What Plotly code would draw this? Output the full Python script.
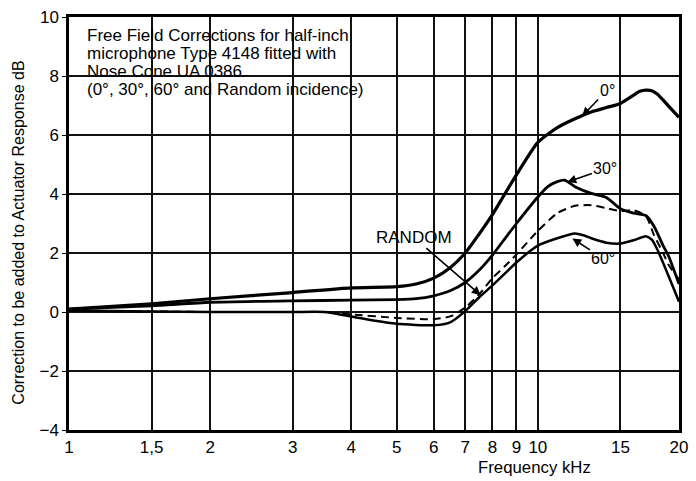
import numpy as np
import plotly.graph_objects as go

# ---------------- data ----------------
freq_0 = [1, 1.5, 2, 3, 4, 5, 5.5, 6, 6.5, 7, 7.5, 8, 8.5, 9, 10, 11, 12, 13, 14, 15, 16, 16.5, 17, 17.5, 18, 19, 20]
corr_0 = [0.1, 0.28, 0.45, 0.66, 0.82, 0.86, 0.95, 1.15, 1.5, 2.0, 2.65, 3.3, 4.0, 4.65, 5.75, 6.25, 6.55, 6.78, 6.93, 7.07, 7.35, 7.48, 7.52, 7.5, 7.38, 6.98, 6.6]

freq_30 = [1, 1.5, 2, 3, 4, 5, 5.5, 6, 6.5, 7, 7.5, 8, 8.5, 9, 10, 10.5, 11, 11.4, 12, 13, 14, 15, 16, 17, 17.7, 18.5, 19, 20]
corr_30 = [0.1, 0.21, 0.33, 0.38, 0.4, 0.42, 0.45, 0.55, 0.72, 1.0, 1.42, 1.93, 2.48, 3.0, 3.9, 4.25, 4.42, 4.47, 4.25, 4.02, 3.88, 3.5, 3.35, 3.27, 2.9, 2.25, 1.9, 0.95]

freq_rand = [1, 1.5, 2, 3, 3.5, 4, 5, 6, 6.5, 7, 7.5, 8, 8.5, 9, 10, 11, 12, 13, 14, 15, 16, 17, 17.7, 18.5, 19, 20]
corr_rand = [0.05, 0.02, 0.0, 0.0, 0.0, -0.08, -0.2, -0.24, -0.15, 0.15, 0.6, 1.15, 1.55, 1.95, 2.75, 3.35, 3.6, 3.62, 3.52, 3.42, 3.45, 3.25, 2.6, 2.0, 1.6, 1.1]

freq_60 = [1, 1.5, 2, 3, 3.5, 4, 4.5, 5, 6, 6.5, 7, 7.5, 8, 8.5, 9, 10, 11, 12, 12.5, 13, 14, 15, 16, 17, 17.5, 18, 19, 20]
corr_60 = [0.05, 0.02, 0.0, 0.0, 0.0, -0.15, -0.3, -0.4, -0.45, -0.35, 0.03, 0.5, 0.9, 1.3, 1.68, 2.25, 2.5, 2.66, 2.6, 2.5, 2.35, 2.32, 2.43, 2.57, 2.45, 2.1, 1.22, 0.35]

x_tickvals = [1, 1.5, 2, 3, 4, 5, 6, 7, 8, 9, 10, 15, 20]
x_ticktext = ["1", "1,5", "2", "3", "4", "5", "6", "7", "8", "9", "10", "15", "20"]
y_tickvals = [-4, -2, 0, 2, 4, 6, 8, 10]
y_ticktext = ["\u22124", "\u22122", "0", "2", "4", "6", "8", "10"]

note_lines = [
    "Free Field Corrections for half-inch",
    "microphone Type 4148 fitted with",
    "Nose Cone UA 0386.",
    "(0\u00b0, 30\u00b0, 60\u00b0 and Random incidence)",
]

# curve labels: text, arrow-head frequency, arrow-head value, text offset (px), font size
labels = [
    ("0\u00b0", 12.43, 6.64, 25, -26, 16),
    ("30\u00b0", 11.56, 4.41, 38, -13, 16),
    ("60\u00b0", 11.85, 2.49, 31, 20, 16),
    ("RANDOM", 7.55, 0.57, -67, -58, 17),
]

FONT = "Liberation Sans, Arial, sans-serif"

fig = go.Figure()
fig.add_trace(go.Scatter(x=freq_0, y=corr_0, mode="lines",
                         line=dict(color="black", width=3.2, shape="spline", smoothing=0.6)))
fig.add_trace(go.Scatter(x=freq_30, y=corr_30, mode="lines",
                         line=dict(color="black", width=2.8, shape="spline", smoothing=0.6)))
fig.add_trace(go.Scatter(x=freq_rand, y=corr_rand, mode="lines",
                         line=dict(color="black", width=2, dash="8px,5px", shape="spline", smoothing=0.6)))
fig.add_trace(go.Scatter(x=freq_60, y=corr_60, mode="lines",
                         line=dict(color="black", width=2.5, shape="spline", smoothing=0.6)))

# white panel behind the note
fig.add_shape(type="rect", xref="paper", yref="paper", x0=0, x1=0.487, y0=0.787, y1=1,
              fillcolor="white", line=dict(width=0), layer="between")

# note text, one annotation per line
line_y_px = [31.5, 49.8, 68.1, 86.4]
for txt, py in zip(note_lines, line_y_px):
    fig.add_annotation(text=txt, xref="paper", yref="paper",
                       x=(85 - 69) / 619, y=(430 - py) / 417,
                       xanchor="left", yanchor="middle", showarrow=False,
                       font=dict(family=FONT, size=17, color="black"))

for txt, f, v, ax, ay, fs in labels:
    fig.add_annotation(text=txt, x=np.log10(f), y=v, xref="x", yref="y",
                       showarrow=True, ax=ax, ay=ay, arrowhead=2, arrowsize=1.1,
                       arrowwidth=1.6, arrowcolor="black",
                       font=dict(family=FONT, size=fs, color="black"))

# axis titles as annotations
fig.add_annotation(text="Correction to be added to Actuator Response dB",
                   xref="paper", yref="paper", x=(18 - 69) / 619, y=(430 - 231) / 417,
                   textangle=-90, showarrow=False, xanchor="center", yanchor="middle",
                   font=dict(family=FONT, size=16, color="black"))
fig.add_annotation(text="Frequency kHz", xref="paper", yref="paper",
                   x=(541 - 69) / 619, y=(430 - 468) / 417,
                   showarrow=False, xanchor="center", yanchor="middle",
                   font=dict(family=FONT, size=16.8, color="black"))

fig.update_xaxes(type="log", range=[0, np.log10(20)], tickvals=x_tickvals, ticktext=x_ticktext,
                 showgrid=True, gridcolor="#111111", gridwidth=1.7,
                 showline=True, linecolor="black", linewidth=2.5, mirror=True,
                 ticks="", zeroline=False,
                 tickfont=dict(family=FONT, size=17, color="black"))
fig.update_yaxes(range=[-4, 10], tickvals=y_tickvals, ticktext=y_ticktext,
                 showgrid=True, gridcolor="#111111", gridwidth=1.7,
                 showline=True, linecolor="black", linewidth=2.5, mirror=True,
                 ticks="outside", ticklen=4, tickcolor="black", zeroline=False,
                 tickfont=dict(family=FONT, size=17, color="black"))

fig.update_layout(width=696, height=481, showlegend=False,
                  margin=dict(l=69, r=8, t=13, b=51),
                  plot_bgcolor="white", paper_bgcolor="white")

fig.write_html("out.html", config={"displayModeBar": False},
               post_script="document.body.style.margin='0px';document.body.style.overflow='hidden';")
